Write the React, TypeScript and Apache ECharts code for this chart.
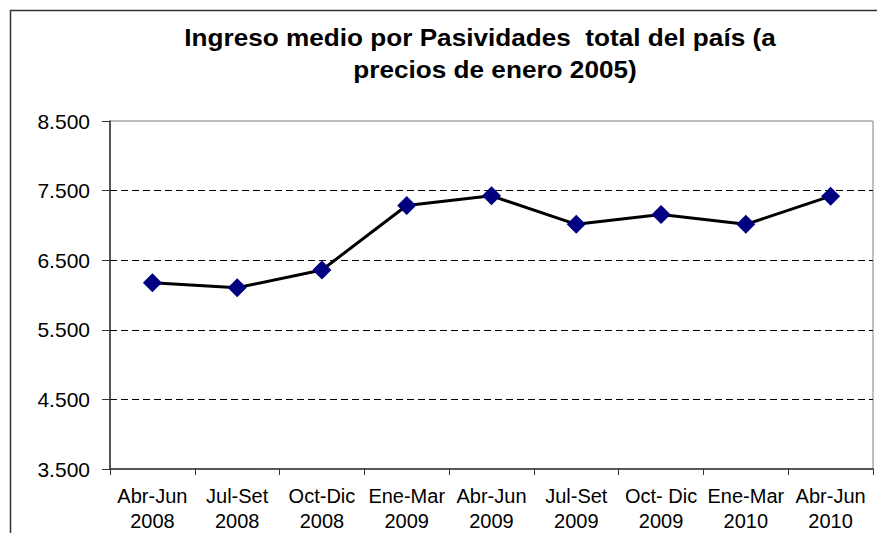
import React, { useEffect, useRef } from "react";
import * as echarts from "echarts";

const categories = [
  "Abr-Jun\n2008",
  "Jul-Set\n2008",
  "Oct-Dic\n2008",
  "Ene-Mar\n2009",
  "Abr-Jun\n2009",
  "Jul-Set\n2009",
  "Oct- Dic\n2009",
  "Ene-Mar\n2010",
  "Abr-Jun\n2010",
];
const values = [6175, 6105, 6360, 7285, 7425, 7015, 7155, 7015, 7420];
const titleLine1 = "Ingreso medio por Pasividades  total del país (a";
const titleLine2 = "precios de enero 2005)";
const yMin = 3500;
const yMax = 8500;
const yInterval = 1000;

const FONT = "'Liberation Sans', Arial, sans-serif";

export default function App() {
  const ref = useRef<HTMLDivElement>(null);
  useEffect(() => {
    if (!ref.current) return;
    const chart = echarts.init(ref.current, null, { renderer: "svg" });
    chart.setOption({
      animation: false,
      backgroundColor: "#ffffff",
      graphic: [
        {
          type: "rect",
          shape: { x: 10.5, y: 10.5, width: 900, height: 600 },
          style: { fill: "none", stroke: "#333333", lineWidth: 1.5 },
          silent: true,
        },
        {
          type: "text",
          x: 480,
          y: 37.4,
          scaleX: 1.09,
          silent: true,
          style: {
            text: titleLine1,
            align: "center",
            verticalAlign: "middle",
            fontFamily: FONT,
            fontSize: 24,
            fontWeight: "bold",
            fill: "#000",
          },
        },
        {
          type: "text",
          x: 495,
          y: 69.2,
          scaleX: 1.09,
          silent: true,
          style: {
            text: titleLine2,
            align: "center",
            verticalAlign: "middle",
            fontFamily: FONT,
            fontSize: 24,
            fontWeight: "bold",
            fill: "#000",
          },
        },
      ],
      grid: {
        left: 110,
        right: 4,
        top: 121,
        bottom: 64,
        containLabel: false,
        outerBoundsMode: "none",
        show: true,
        borderColor: "#808080",
        borderWidth: 1,
        backgroundColor: "transparent",
      },
      xAxis: {
        type: "category",
        data: categories,
        boundaryGap: true,
        axisLine: { show: true, lineStyle: { color: "#333", width: 1.5 } },
        axisTick: { show: true, inside: false, length: 6, alignWithLabel: false, lineStyle: { color: "#333", width: 1 } },
        axisLabel: {
          fontFamily: FONT,
          fontSize: 20,
          lineHeight: 25,
          color: "#000",
          margin: 14,
          interval: 0,
          hideOverlap: false,
        },
        splitLine: { show: false },
      },
      yAxis: {
        type: "value",
        min: yMin,
        max: yMax,
        interval: yInterval,
        axisLine: { show: true, lineStyle: { color: "#333", width: 1.5 } },
        axisTick: { show: true, inside: false, length: 8, lineStyle: { color: "#333", width: 1 } },
        axisLabel: {
          fontFamily: FONT,
          fontSize: 21,
          color: "#000",
          margin: 20,
          formatter: (v: number) => v.toLocaleString("de-DE"),
        },
        splitLine: {
          show: true,
          lineStyle: {
            color: ["rgba(0,0,0,0)", "#000", "#000", "#000", "#000", "rgba(0,0,0,0)"],
            type: [7, 4],
            width: 1,
          },
        },
      },
      series: [
        {
          type: "line",
          data: values,
          symbol: "diamond",
          symbolSize: 19,
          lineStyle: { color: "#000", width: 3 },
          itemStyle: { color: "#000080", borderWidth: 0 },
          z: 3,
        },
      ],
    });
    return () => chart.dispose();
  }, []);
  return (
    <div
      ref={ref}
      style={{ position: "fixed", left: 0, top: 0, width: 877, height: 533 }}
    />
  );
}
